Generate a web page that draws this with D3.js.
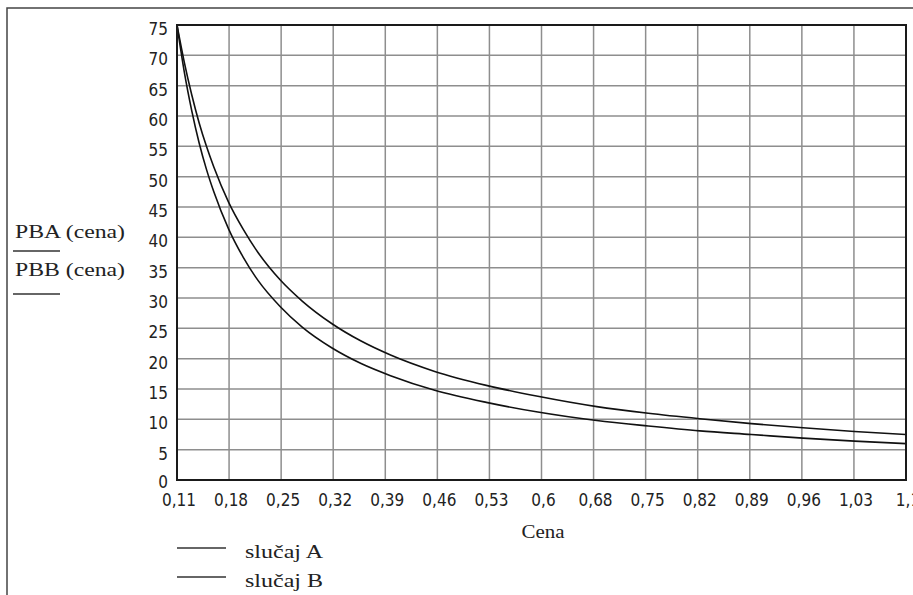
<!DOCTYPE html>
<html>
<head>
<meta charset="utf-8">
<script src="https://d3js.org/d3.v7.min.js"></script>
<style>
  body { margin: 0; background: #fff; }
  .tick-lbl { font-family: "DejaVu Sans Condensed", "Liberation Sans Narrow", sans-serif; font-stretch: condensed; font-size: 17px; fill: #222; }
  .serif { font-family: "Liberation Serif", "DejaVu Serif", serif; font-size: 19px; fill: #222; }
</style>
</head>
<body>
<div id="my_dataviz"></div>
<script>
// data
var cena = [0.11, 0.12, 0.13, 0.14, 0.15, 0.16, 0.18, 0.20, 0.22, 0.25, 0.28, 0.32,
            0.36, 0.40, 0.46, 0.53, 0.60, 0.68, 0.75, 0.82, 0.89, 0.96, 1.03, 1.10];
var pbA = [75, 68.8, 63.5, 58.9, 55.0, 51.6, 45.8, 41.3, 37.5, 33.0, 29.5, 25.8,
           22.9, 20.6, 17.9, 15.6, 13.8, 12.1, 11.0, 10.1, 9.3, 8.6, 8.0, 7.5];
var pbB = [75, 67.2, 60.9, 55.6, 51.2, 47.5, 41.4, 36.7, 32.9, 28.6, 25.2, 21.8,
           19.2, 17.2, 14.8, 12.8, 11.2, 9.8, 8.9, 8.1, 7.5, 6.9, 6.4, 6.0];
var xTickLabels = ["0,11", "0,18", "0,25", "0,32", "0,39", "0,46", "0,53", "0,6",
                   "0,68", "0,75", "0,82", "0,89", "0,96", "1,03", "1,1"];
var yTicks = d3.range(0, 76, 5);
var legendLabels = ["slučaj A", "slučaj B"];
var yLabels = ["PBA (cena)", "PBB (cena)"];

// set the dimensions and margins of the graph
var W = 913, H = 595;
var margin = {top: 25, right: 7, bottom: 115, left: 177},
    width = W - margin.left - margin.right,
    height = H - margin.top - margin.bottom;

var svg = d3.select("#my_dataviz")
  .append("svg")
    .attr("width", W)
    .attr("height", H);

// outer frame, runs off the page on the right and bottom
svg.append("rect")
    .attr("x", 7).attr("y", 8)
    .attr("width", W + 10).attr("height", H + 10)
    .style("fill", "none")
    .style("stroke", "#444")
    .style("stroke-width", 1.5);

var g = svg.append("g")
    .attr("transform", "translate(" + margin.left + "," + margin.top + ")");

var x = d3.scaleLinear()
    .domain([0.11, 1.1])
    .range([0, width]);
var y = d3.scaleLinear()
    .domain([0, 75])
    .range([height, 0]);

// tick positions are evenly spaced between the ends, as in the source
var xTicks = xTickLabels.map(function(d, i) {
  return 0.11 + i * (1.1 - 0.11) / (xTickLabels.length - 1);
});

// grid
g.selectAll(".vgrid")
  .data(xTicks.slice(1, -1))
  .enter()
  .append("line")
    .attr("x1", function(d) { return x(d) })
    .attr("x2", function(d) { return x(d) })
    .attr("y1", 0).attr("y2", height)
    .style("stroke", "#8e8e8e")
    .style("stroke-width", 1.5);
g.selectAll(".hgrid")
  .data(yTicks.slice(1, -1))
  .enter()
  .append("line")
    .attr("y1", function(d) { return y(d) })
    .attr("y2", function(d) { return y(d) })
    .attr("x1", 0).attr("x2", width)
    .style("stroke", "#8e8e8e")
    .style("stroke-width", 1.5);

// the curves
var line = d3.line()
  .x(function(d) { return x(d[0]) })
  .y(function(d) { return y(d[1]) })
  .curve(d3.curveMonotoneX);

[pbA, pbB].forEach(function(s) {
  g.append("path")
    .datum(cena.map(function(c, i) { return [c, s[i]] }))
    .attr("d", line)
    .style("fill", "none")
    .style("stroke", "#111")
    .style("stroke-width", 1.6);
});

// plot frame
g.append("rect")
    .attr("width", width).attr("height", height)
    .style("fill", "none")
    .style("stroke", "#1a1a1a")
    .style("stroke-width", 2);

// y tick labels
g.selectAll(".ylbl")
  .data(yTicks)
  .enter()
  .append("text")
    .attr("class", "tick-lbl")
    .attr("x", -9)
    .attr("y", function(d) { return y(d) + (d === 0 ? 8 : 10) })
    .attr("text-anchor", "end")
    .text(function(d) { return d });

// x tick labels
g.selectAll(".xlbl")
  .data(xTicks)
  .enter()
  .append("text")
    .attr("class", "tick-lbl")
    .attr("x", function(d) { return x(d) + 2 })
    .attr("y", height + 26)
    .attr("text-anchor", "middle")
    .text(function(d, i) { return xTickLabels[i] });

// axis title
svg.append("text")
    .attr("class", "serif")
    .attr("x", 543).attr("y", 538)
    .attr("text-anchor", "middle")
    .attr("textLength", 43)
    .attr("lengthAdjust", "spacingAndGlyphs")
    .text("Cena");

// left labels with their line samples
yLabels.forEach(function(t, i) {
  svg.append("text")
      .attr("class", "serif")
      .attr("x", 15).attr("y", 238 + i * 38)
      .attr("textLength", 110)
      .attr("lengthAdjust", "spacingAndGlyphs")
      .text(t);
  svg.append("line")
      .attr("x1", 13).attr("x2", 60)
      .attr("y1", 251 + i * 43).attr("y2", 251 + i * 43)
      .style("stroke", "#333")
      .style("stroke-width", 1.5);
});

// legend
legendLabels.forEach(function(t, i) {
  svg.append("line")
      .attr("x1", 177).attr("x2", 226)
      .attr("y1", 548 + i * 29).attr("y2", 548 + i * 29)
      .style("stroke", "#333")
      .style("stroke-width", 1.5);
  svg.append("text")
      .attr("class", "serif")
      .attr("x", 245).attr("y", 558 + i * 29)
      .attr("textLength", 78)
      .attr("lengthAdjust", "spacingAndGlyphs")
      .text(t);
});
</script>
</body>
</html>
